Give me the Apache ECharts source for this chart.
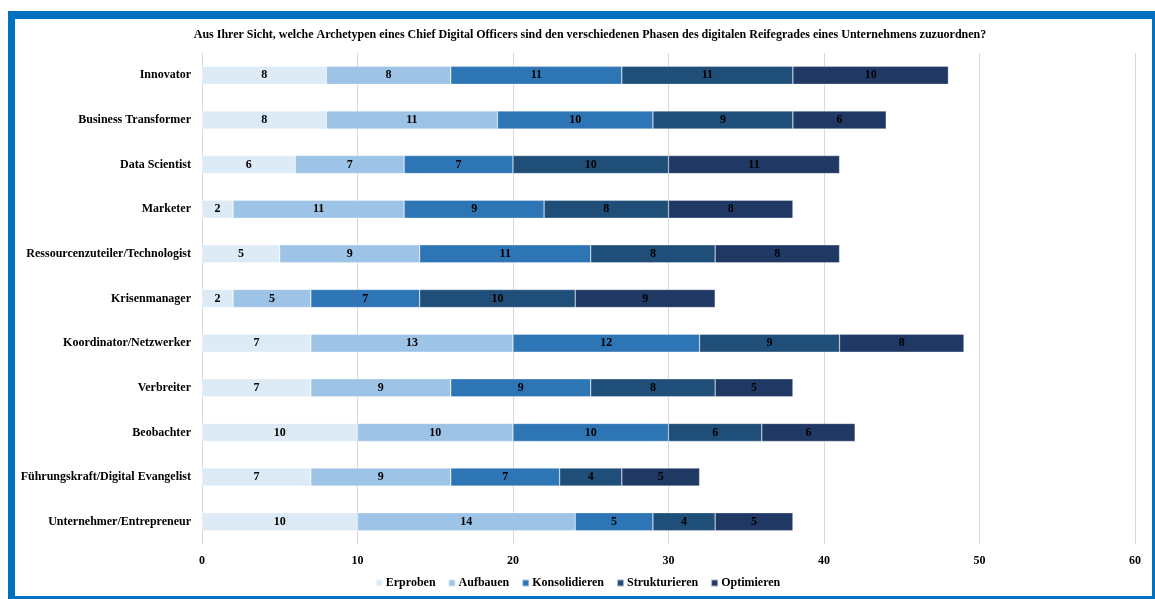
<!DOCTYPE html>
<html>
<head>
<meta charset="utf-8">
<script src="https://cdn.jsdelivr.net/npm/echarts@6/dist/echarts.min.js"></script>
<style>
  html, body { margin: 0; padding: 0; width: 1155px; height: 599px; overflow: hidden; background: #fff; }
  #frame { position: absolute; left: 8px; top: 11px; width: 1151px; height: 592px; box-sizing: border-box; border: 7px solid #0070C0; border-top-width: 8px; }
  #chart { position: absolute; left: 0; top: 0; width: 1155px; height: 599px; }
</style>
</head>
<body>
<div id="frame"></div>
<div id="chart"></div>
<script>
// Archetypes (top to bottom as shown)
const categories = [
  'Innovator',
  'Business Transformer',
  'Data Scientist',
  'Marketer',
  'Ressourcenzuteiler/Technologist',
  'Krisenmanager',
  'Koordinator/Netzwerker',
  'Verbreiter',
  'Beobachter',
  'Führungskraft/Digital Evangelist',
  'Unternehmer/Entrepreneur'
];

// Number of mentions per maturity phase
const erproben      = [8, 8, 6, 2, 5, 2, 7, 7, 10, 7, 10];
const aufbauen      = [8, 11, 7, 11, 9, 5, 13, 9, 10, 9, 14];
const konsolidieren = [11, 10, 7, 9, 11, 7, 12, 9, 10, 7, 5];
const strukturieren = [11, 9, 10, 8, 8, 10, 9, 8, 6, 4, 4];
const optimieren    = [10, 6, 11, 8, 8, 9, 8, 5, 6, 5, 5];

const phaseNames = ['Erproben', 'Aufbauen', 'Konsolidieren', 'Strukturieren', 'Optimieren'];
const phaseValues = [erproben, aufbauen, konsolidieren, strukturieren, optimieren];
const phaseColors = ['#DDEBF7', '#9DC3E6', '#2E75B6', '#1F4E79', '#203864'];

const xTicks = { min: 0, max: 60, interval: 10 };

const serif = '"Liberation Serif", "Times New Roman", serif';

const series = phaseNames.map((name, i) => ({
  name: name,
  type: 'bar',
  stack: 'total',
  barWidth: 18,
  data: phaseValues[i],
  itemStyle: { color: phaseColors[i], borderColor: 'rgba(255,255,255,0.6)', borderWidth: 0.5 },
  label: {
    show: true,
    position: 'inside',
    color: '#000',
    fontFamily: serif,
    fontWeight: 'bold',
    fontSize: 12
  },
  emphasis: { disabled: true }
}));

const chart = echarts.init(document.getElementById('chart'), null, { renderer: 'canvas' });
chart.setOption({
  animation: false,
  backgroundColor: 'transparent',
  title: {
    text: 'Aus Ihrer Sicht, welche Archetypen eines Chief Digital Officers sind den verschiedenen Phasen des digitalen Reifegrades eines Unternehmens zuzuordnen?',
    left: 585,
    top: 24,
    textAlign: 'center',
    textStyle: { fontFamily: serif, fontWeight: 'bold', fontSize: 12, color: '#000' }
  },
  legend: {
    data: phaseNames,
    left: 'center',
    top: 572,
    itemWidth: 7,
    itemHeight: 7,
    itemGap: 12,
    icon: 'rect',
    textStyle: { fontFamily: serif, fontWeight: 'bold', fontSize: 12, color: '#000', padding: [0, 0, 0, -2] }
  },
  grid: { left: 202, right: 20, top: 53, bottom: 55, containLabel: false },
  xAxis: {
    type: 'value',
    min: xTicks.min,
    max: xTicks.max,
    interval: xTicks.interval,
    axisLine: { show: false },
    axisTick: { show: false },
    splitLine: { show: true, lineStyle: { color: '#D9D9D9', width: 1 } },
    axisLabel: { fontFamily: serif, fontWeight: 'bold', fontSize: 12, color: '#000', margin: 11 }
  },
  yAxis: {
    type: 'category',
    data: categories,
    inverse: true,
    axisLine: { show: true, lineStyle: { color: '#D9D9D9' } },
    axisTick: { show: false },
    axisLabel: { fontFamily: serif, fontWeight: 'bold', fontSize: 12, color: '#000', margin: 11 }
  },
  series: series
});
</script>
</body>
</html>
